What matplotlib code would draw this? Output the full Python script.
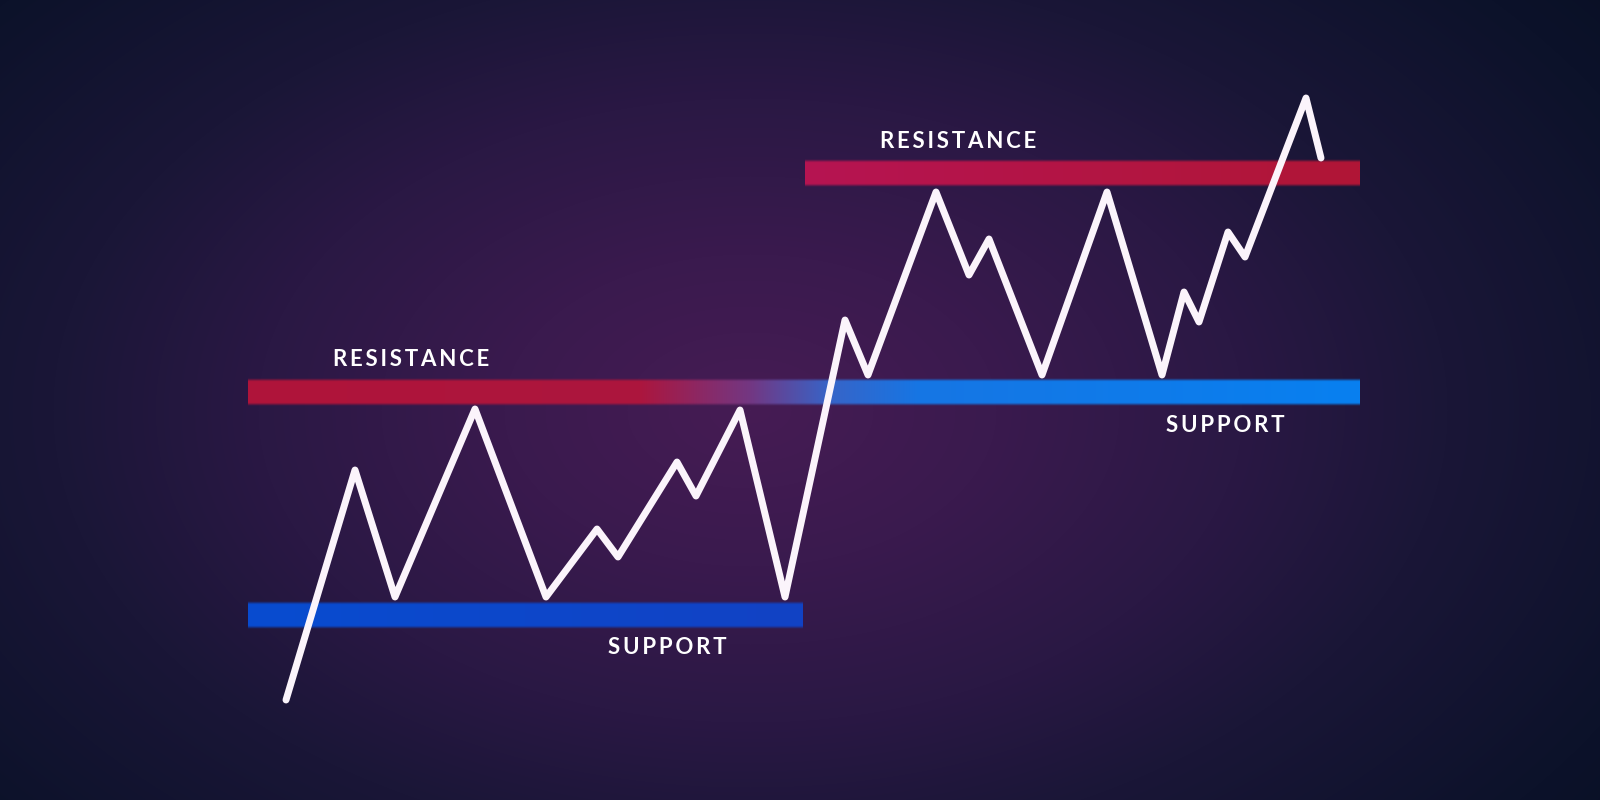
import numpy as np
import matplotlib
matplotlib.use("Agg")
import matplotlib.pyplot as plt

plt.rcParams['font.family'] = ['Lato', 'DejaVu Sans']

# price path (time, price)
t = [286, 355, 395, 475, 546, 597, 618, 677, 696, 740, 785, 845, 868,
     936, 969, 989, 1042, 1107, 1162, 1184, 1199, 1228, 1245, 1306, 1321]
price = [100, 330, 203, 391, 203, 271, 243, 338, 304, 390, 203, 480, 425,
         608, 525, 561, 425, 608, 425, 508, 478, 568, 543, 702, 642]

# horizontal levels: (level, start, end)
support_1 = (184.5, 248, 803)
resist_1 = (407.5, 248, 1360)   # becomes support later on
resist_2 = (626.5, 805, 1360)
band_h = 25

labels = ["RESISTANCE", "SUPPORT", "RESISTANCE", "SUPPORT"]
label_pos = [(411, 440), (667, 152), (958, 659), (1225, 375)]


def background(ax):
    yy, xx = np.mgrid[0:800, 0:1600]
    d = np.sqrt(((xx - 750) / 820.0) ** 2 + ((yy - 410) / 520.0) ** 2)
    stops = [0, 0.3, 0.6, 0.85, 1.2, 1.5]
    cols = np.array([(70, 28, 84), (58, 26, 78), (42, 24, 68),
                     (26, 22, 55), (12, 18, 42), (6, 14, 32)]) / 255.0
    img = np.zeros((800, 1600, 3))
    for c in range(3):
        img[:, :, c] = np.interp(d, stops, cols[:, c])
    ax.imshow(img, extent=[0, 1600, 0, 800], origin='upper', aspect='auto', zorder=0)


def band(ax, level, x0, x1, xstops, colors):
    xs = np.linspace(x0, x1, 600)
    colors = np.array(colors) / 255.0
    rgb = np.stack([np.interp(xs, xstops, colors[:, c]) for c in range(3)], axis=-1)
    # slightly soft top and bottom edge
    n = 60
    ys = np.linspace(-1, 1, n)
    half = band_h / 2.0
    pad = 1.5
    yabs = np.abs(ys) * (half + pad)
    alpha = np.clip((half + pad - yabs) / (2 * pad), 0, 1)
    arr = np.zeros((n, len(xs), 4))
    arr[:, :, :3] = rgb[None, :, :]
    arr[:, :, 3] = alpha[:, None]
    ax.imshow(arr, extent=[x0, x1, level - half - pad, level + half + pad],
              aspect='auto', interpolation='bilinear', zorder=2)


fig = plt.figure(figsize=(16, 8), dpi=100)
ax = fig.add_axes([0, 0, 1, 1])
background(ax)

lvl, a, b = support_1
band(ax, lvl, a, b, [a, b], [(8, 76, 208), (18, 66, 196)])
lvl, a, b = resist_1
band(ax, lvl, a, b, [a, 640, 700, 750, 830, 920, b],
     [(176, 20, 58), (172, 22, 62), (140, 40, 100), (115, 55, 130),
      (55, 100, 200), (22, 118, 228), (8, 128, 240)])
lvl, a, b = resist_2
band(ax, lvl, a, b, [a, b], [(182, 20, 82), (176, 22, 54)])

ax.plot(t, price, color='#fbf4fb', lw=5.0, solid_joinstyle='round',
        solid_capstyle='round', zorder=3)

for txt, (x, y) in zip(labels, label_pos):
    ax.text(x, y, "\u2009".join(txt), color='white', fontsize=16, fontweight='bold',
            ha='center', va='center', zorder=4)

ax.set_xlim(0, 1600)
ax.set_ylim(0, 800)
ax.axis('off')
fig.savefig("out.png", dpi=100)
